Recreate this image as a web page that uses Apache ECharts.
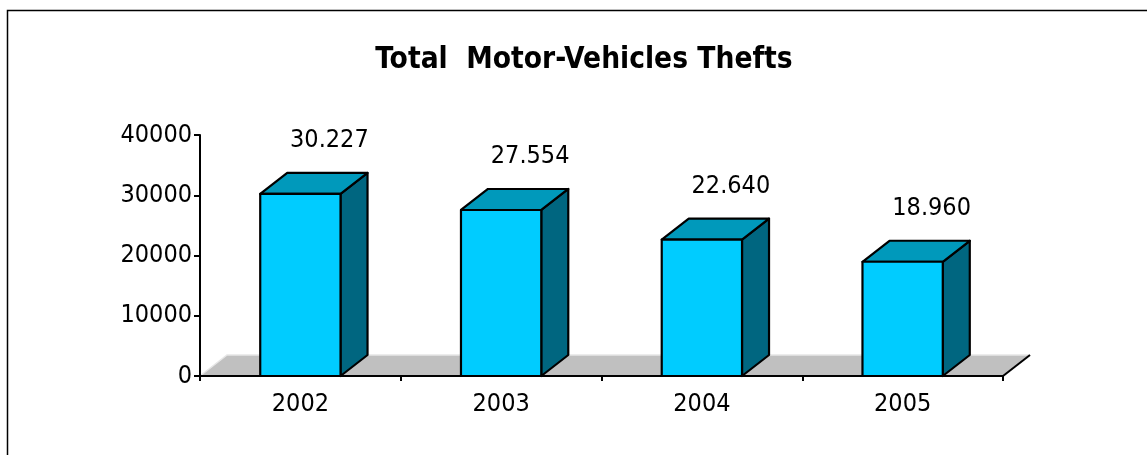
<!DOCTYPE html>
<html><head><meta charset="utf-8">
<script src="https://cdn.jsdelivr.net/npm/echarts@6/dist/echarts.min.js"></script>
<style>html,body{margin:0;padding:0;background:#fff}#c{width:1147px;height:455px}</style>
</head><body><div id="c"></div>
<script>
const titleText = 'Total  Motor-Vehicles Thefts';
const categories = ['2002', '2003', '2004', '2005'];
const thefts = [30227, 27554, 22640, 18960];
const yMin = 0, yMax = 40000, yStep = 10000;

const FONT = '"DejaVu Sans Condensed", "DejaVu Sans", sans-serif';
const DX = 27, DY = -21;
const FRONT = '#00ccff', TOP = '#0099bb', SIDE = '#006680', FLOOR = '#c0c0c0';

function fmt(v) { return String(v).replace(/\B(?=(\d{3})+(?!\d))/g, '.'); }

const floorSeries = {
  type: 'custom', z: 1, silent: true, data: [[0]],
  renderItem: function (params) {
    const cs = params.coordSys;
    const xl = cs.x, xr = cs.x + cs.width, yb = cs.y + cs.height;
    return {
      type: 'group', children: [
        { type: 'polygon', shape: { points: [[xl, yb], [xl + DX, yb + DY], [xr + DX, yb + DY], [xr, yb]] },
          style: { fill: FLOOR, stroke: null } },
        { type: 'polyline', shape: { points: [[xl, yb], [xl + DX, yb + DY], [xr + DX, yb + DY]] },
          style: { fill: null, stroke: '#e6e6e6', lineWidth: 1.5 } },
        { type: 'line', shape: { x1: xr, y1: yb, x2: xr + DX, y2: yb + DY },
          style: { stroke: '#000', lineWidth: 2 } }
      ]
    };
  }
};

const barSeries = {
  type: 'custom', z: 2, silent: true,
  data: thefts.map(function (v, i) { return [i, v]; }),
  encode: { x: 0, y: 1 },
  renderItem: function (params, api) {
    const i = api.value(0), v = api.value(1);
    const c = api.coord([i, v]);
    const b = api.coord([i, 0]);
    const bw = api.size([1, 0])[0] * 0.4;
    const x0 = c[0] - bw / 2, x1 = c[0] + bw / 2, yt = c[1], yb = b[1];
    const st = { stroke: '#000', lineWidth: 2.2, lineJoin: 'round' };
    return {
      type: 'group', children: [
        { type: 'polygon', shape: { points: [[x1, yt], [x1 + DX, yt + DY], [x1 + DX, yb + DY], [x1, yb]] },
          style: Object.assign({ fill: SIDE }, st) },
        { type: 'polygon', shape: { points: [[x0, yt], [x0 + DX, yt + DY], [x1 + DX, yt + DY], [x1, yt]] },
          style: Object.assign({ fill: TOP }, st) },
        { type: 'rect', shape: { x: x0, y: yt, width: bw, height: yb - yt },
          style: Object.assign({ fill: FRONT }, st) },
        { type: 'text', x: c[0] + 29, y: yt - 53,
          style: { text: fmt(v), fill: '#000', fontFamily: FONT, fontSize: 25, align: 'center', verticalAlign: 'middle' } }
      ]
    };
  }
};

const chart = echarts.init(document.getElementById('c'), null, { renderer: 'canvas' });
chart.setOption({
  animation: false,
  backgroundColor: '#fff',
  title: {
    text: titleText, left: 579, textAlign: 'center', top: 40,
    textStyle: { fontFamily: FONT, fontWeight: 'bold', fontSize: 29.6, color: '#000' }
  },
  graphic: [{ type: 'rect', z: -10, silent: true, shape: { x: 7.5, y: 10.5, width: 1300, height: 600 },
    style: { fill: null, stroke: '#000', lineWidth: 1.5 } }],
  grid: { left: 200, right: 144, top: 135, bottom: 79 },
  xAxis: {
    type: 'category', data: categories, z: 5,
    axisLine: { lineStyle: { color: '#000', width: 2 } },
    axisTick: { show: true, length: 5, lineStyle: { color: '#000', width: 2 } },
    axisLabel: { fontFamily: FONT, fontSize: 25, color: '#000', margin: 16 },
    splitLine: { show: false }
  },
  yAxis: {
    type: 'value', min: yMin, max: yMax, interval: yStep, z: 5,
    axisLine: { show: true, lineStyle: { color: '#000', width: 2 } },
    axisTick: { show: true, length: 6, lineStyle: { color: '#000', width: 2 } },
    axisLabel: { fontFamily: FONT, fontSize: 25, color: '#000', margin: 8,
      formatter: function (v) { return String(v); } },
    splitLine: { show: false }
  },
  series: [floorSeries, barSeries]
});
</script>
</body></html>
